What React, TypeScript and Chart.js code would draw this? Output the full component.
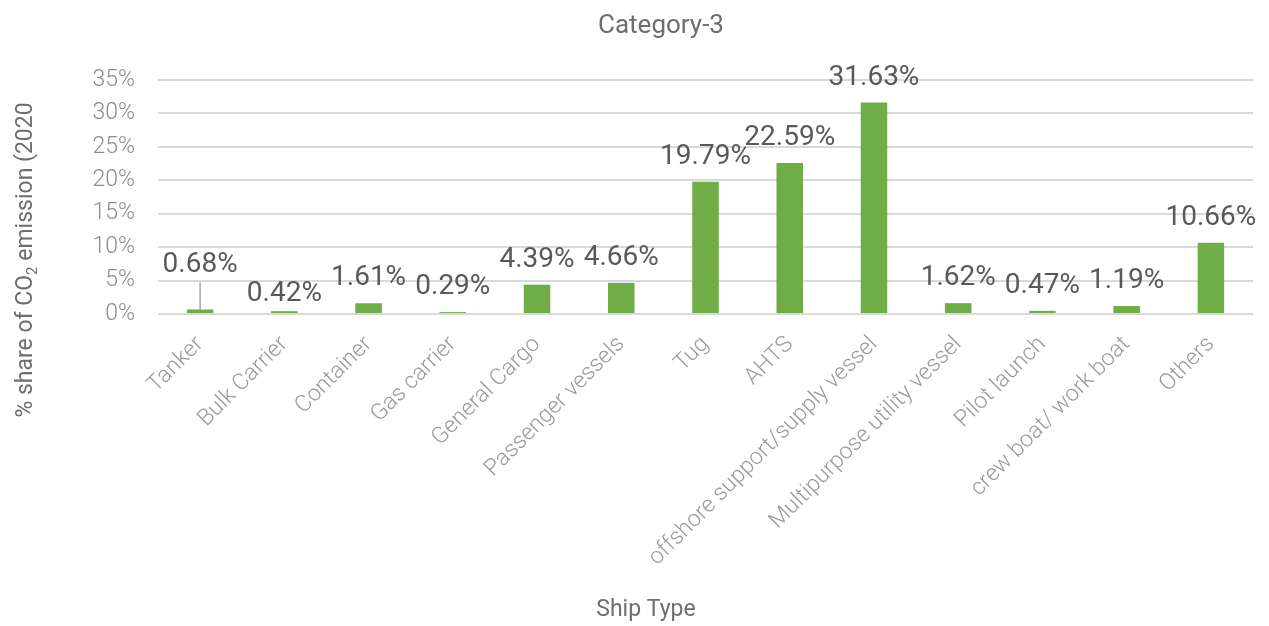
import React, { useEffect, useRef } from 'react';
import { Chart, registerables } from 'chart.js';

Chart.register(...registerables);

const categories = [
  'Tanker',
  'Bulk Carrier',
  'Container',
  'Gas carrier',
  'General Cargo',
  'Passenger vessels',
  'Tug',
  'AHTS',
  'offshore support/supply vessel',
  'Multipurpose utility vessel',
  'Pilot launch',
  'crew boat/ work boat',
  'Others',
];
const shares = [0.68, 0.42, 1.61, 0.29, 4.39, 4.66, 19.79, 22.59, 31.63, 1.62, 0.47, 1.19, 10.66];
const yMin = 0;
const yMax = 35;
const yStep = 5;
const chartTitle = 'Category-3';
const xTitle = 'Ship Type';
const yTitleParts = ['% share of CO', '2', ' emission (2020'];

const FONT = 'Roboto, "Noto Sans", sans-serif';
const W = 1269;
const H = 626;

const decorPlugin = {
  id: 'decor',
  afterDraw(chart: any) {
    const ctx = chart.ctx as CanvasRenderingContext2D;
    const meta = chart.getDatasetMeta(0);
    ctx.save();
    // data labels
    ctx.font = `28px ${FONT}`;
    ctx.fillStyle = '#595959';
    ctx.textAlign = 'center';
    ctx.textBaseline = 'alphabetic';
    meta.data.forEach((bar: any, i: number) => {
      let baseline = bar.y - 18;
      if (i === 0) {
        baseline -= 19;
        ctx.save();
        ctx.strokeStyle = '#a6a6a6';
        ctx.lineWidth = 1.5;
        ctx.beginPath();
        ctx.moveTo(bar.x, baseline + 10);
        ctx.lineTo(bar.x, bar.y);
        ctx.stroke();
        ctx.restore();
      }
      if (i === 1) baseline += 8;
      ctx.fillText(`${shares[i].toFixed(2)}%`, bar.x, baseline);
    });

    // chart title
    ctx.fillStyle = '#6e6e6e';
    ctx.font = `26px ${FONT}`;
    ctx.fillText(chartTitle, 661, 33);

    // x title
    ctx.font = `23px ${FONT}`;
    ctx.fillText(xTitle, 646, 616);

    // y title
    ctx.save();
    ctx.translate(32, 260);
    ctx.rotate(-Math.PI / 2);
    ctx.textAlign = 'left';
    const mainFont = `23px ${FONT}`;
    const subFont = `15px ${FONT}`;
    ctx.font = mainFont;
    const w0 = ctx.measureText(yTitleParts[0]).width;
    const w2 = ctx.measureText(yTitleParts[2]).width;
    ctx.font = subFont;
    const w1 = ctx.measureText(yTitleParts[1]).width;
    let x = -(w0 + w1 + w2) / 2;
    ctx.font = mainFont;
    ctx.fillText(yTitleParts[0], x, 0);
    x += w0;
    ctx.font = subFont;
    ctx.fillText(yTitleParts[1], x, 5);
    x += w1;
    ctx.font = mainFont;
    ctx.fillText(yTitleParts[2], x, 0);
    ctx.restore();

    ctx.restore();
  },
};

export default function App() {
  const ref = useRef<HTMLCanvasElement | null>(null);
  useEffect(() => {
    if (!ref.current) return;
    const chart = new Chart(ref.current, {
      type: 'bar',
      data: {
        labels: categories,
        datasets: [
          {
            data: shares,
            backgroundColor: '#70ad47',
            borderWidth: 0,
            categoryPercentage: 1,
            barPercentage: 0.315,
          },
        ],
      },
      options: {
        responsive: false,
        animation: false,
        layout: { padding: { left: 0, right: 16, top: 80, bottom: 0 } },
        plugins: {
          legend: { display: false },
          title: { display: false },
          tooltip: { enabled: false },
        },
        scales: {
          x: {
            grid: { display: false, drawTicks: false },
            border: { display: false },
            ticks: {
              autoSkip: false,
              minRotation: 45,
              maxRotation: 45,
              padding: 17,
              color: '#9a9a9a',
              font: { family: FONT, size: 23, weight: '300' },
            },
            afterFit: (scale: any) => {
              scale.height = H - 314;
            },
          },
          y: {
            min: yMin,
            max: yMax,
            grid: { color: '#d9d9d9', lineWidth: 2, drawTicks: false },
            border: { display: false },
            ticks: {
              stepSize: yStep,
              padding: 23,
              color: '#8c8c8c',
              font: { family: FONT, size: 23, weight: '300' },
              callback: (v: any) => `${v}%`,
            },
            afterFit: (scale: any) => {
              scale.width = 158;
            },
          },
        },
      },
      plugins: [decorPlugin],
    });
    return () => chart.destroy();
  }, []);
  return (
    <div style={{ position: 'absolute', left: 0, top: 0, width: W, height: H, background: '#fff' }}>
      <canvas ref={ref} width={W} height={H} />
    </div>
  );
}
